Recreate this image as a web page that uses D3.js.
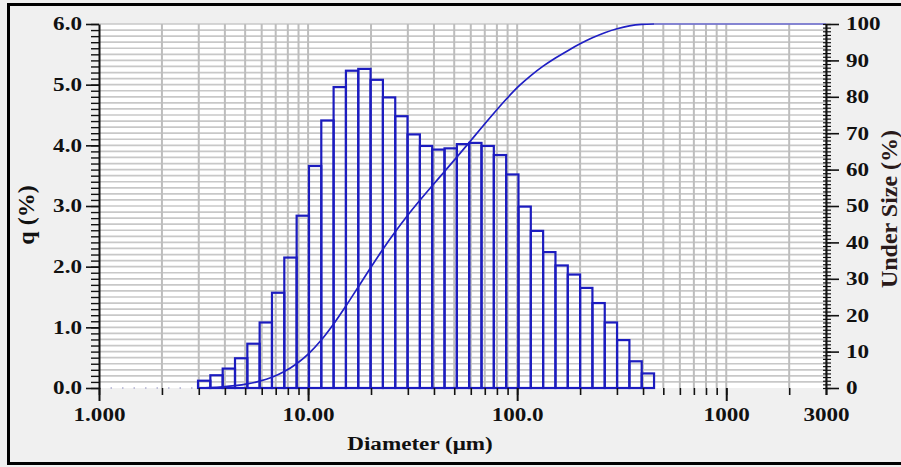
<!DOCTYPE html>
<html>
<head>
<meta charset="utf-8">
<script src="https://cdn.jsdelivr.net/npm/d3@7"></script>
<style>
  body { margin: 0; background: #f0f0f0; }
  .tick text { font-family: "Liberation Serif", "Times New Roman", serif; font-weight: bold; font-size: 18.5px; fill: #111; }
  .title { font-family: "Liberation Serif", "Times New Roman", serif; font-weight: bold; fill: #111; }
</style>
</head>
<body>
<div id="chart"></div>
<script>
// channel edges (um), q per channel (%), cumulative undersize at each edge (%)
var binEdges = [2.976, 3.409, 3.905, 4.472, 5.122, 5.866, 6.719, 7.696, 8.816, 10.097,
  11.565, 13.246, 15.172, 17.377, 19.904, 22.797, 26.111, 29.907, 34.255, 39.234,
  44.938, 51.471, 58.953, 67.523, 77.339, 88.583, 101.46, 116.21, 133.103, 152.453,
  174.616, 200, 229.075, 262.376, 300.518, 344.206, 394.244, 451.556];
var qValues = [0.12, 0.21, 0.32, 0.49, 0.73, 1.08, 1.57, 2.15, 2.84, 3.66,
  4.41, 4.96, 5.23, 5.26, 5.08, 4.79, 4.48, 4.18, 3.99, 3.93,
  3.95, 4.02, 4.04, 3.99, 3.84, 3.52, 2.99, 2.59, 2.24, 2.02,
  1.87, 1.65, 1.40, 1.08, 0.79, 0.44, 0.24];
var underSize = [0, 0.12, 0.33, 0.65, 1.14, 1.87, 2.95, 4.52, 6.67, 9.51,
  13.17, 17.58, 22.54, 27.77, 33.03, 38.11, 42.90, 47.38, 51.56, 55.55,
  59.48, 63.43, 67.45, 71.49, 75.48, 79.32, 82.84, 85.83, 88.42, 90.66,
  92.68, 94.55, 96.20, 97.60, 98.68, 99.47, 99.88, 100];

var xTickValues = [1, 10, 100, 1000, 3000];
var xTickLabels = ["1.000", "10.00", "100.0", "1000", "3000"];
var yLeftTicks = [0, 1, 2, 3, 4, 5, 6];
var yRightTicks = [0, 10, 20, 30, 40, 50, 60, 70, 80, 90, 100];

var W = 901, H = 467;
var stretch = 1.25; // the source text is drawn wide
var margin = {top: 24, right: 75, bottom: 79, left: 99},
    width = W - margin.left - margin.right,
    height = H - margin.top - margin.bottom;

var svgRoot = d3.select("#chart").append("svg")
    .attr("width", W)
    .attr("height", H);

// outer frame
svgRoot.append("rect")
    .attr("x", 8.5).attr("y", 4.5)
    .attr("width", W + 10).attr("height", 459)
    .attr("fill", "#f0f0f0")
    .attr("stroke", "#000")
    .attr("stroke-width", 3);

var svg = svgRoot.append("g")
    .attr("transform", "translate(" + margin.left + "," + margin.top + ")");

var x = d3.scaleLog().domain([1, 3000]).range([0, width]);
var yL = d3.scaleLinear().domain([0, 6]).range([height, 0]);
var yR = d3.scaleLinear().domain([0, 100]).range([height, 0]);

function widen(g) {
  g.selectAll("text")
    .attr("x", function() { return (+d3.select(this).attr("x") || 0) / stretch; })
    .attr("transform", "scale(" + stretch + ",1)");
}

// plot background
svg.append("rect")
    .attr("width", width).attr("height", height)
    .attr("fill", "#fff");

// horizontal grid every 0.1
var hGrid = d3.range(1, 61).map(function(d) { return d / 10; });
svg.append("g").selectAll("line")
  .data(hGrid)
  .enter().append("line")
    .attr("x1", 0).attr("x2", width)
    .attr("y1", function(d) { return yL(d); })
    .attr("y2", function(d) { return yL(d); })
    .attr("stroke", "#c8c8c8")
    .attr("stroke-width", 1.7);

// vertical grid at log ticks
svg.append("g").selectAll("line")
  .data(x.ticks().filter(function(d) { return d > 1; }))
  .enter().append("line")
    .attr("x1", function(d) { return x(d); })
    .attr("x2", function(d) { return x(d); })
    .attr("y1", 0).attr("y2", height)
    .attr("stroke", "#bdbdbd")
    .attr("stroke-width", 2);

// histogram bars
svg.append("g").selectAll("rect")
  .data(qValues)
  .enter().append("rect")
    .attr("x", function(d, i) { return x(binEdges[i]); })
    .attr("width", function(d, i) { return x(binEdges[i + 1]) - x(binEdges[i]); })
    .attr("y", function(d) { return yL(d); })
    .attr("height", function(d) { return yL(0) - yL(d); })
    .attr("fill", "none")
    .attr("stroke", "#1c1cbf")
    .attr("stroke-width", 2.2);

// cumulative curve
var pts = binEdges.map(function(e, i) { return [e, underSize[i]]; });
var line = d3.line()
    .x(function(d) { return x(d[0]); })
    .y(function(d) { return yR(d[1]); })
    .curve(d3.curveMonotoneX);

svg.append("path")
    .datum(pts)
    .attr("d", line)
    .attr("fill", "none")
    .attr("stroke", "#1f1fc4")
    .attr("stroke-width", 1.7);

// flat tails of the curve
svg.append("line")
    .attr("x1", x(1)).attr("x2", x(binEdges[0]))
    .attr("y1", yR(0)).attr("y2", yR(0))
    .attr("stroke", "#8888bb")
    .attr("stroke-width", 1.2)
    .attr("stroke-dasharray", "1.5,10");
svg.append("line")
    .attr("x1", x(binEdges[binEdges.length - 1])).attr("x2", x(3000))
    .attr("y1", yR(100)).attr("y2", yR(100))
    .attr("stroke", "#6a6ad0")
    .attr("stroke-width", 1.4);

// bottom axis: minor then major
svg.append("g")
    .attr("transform", "translate(0," + height + ")")
    .call(d3.axisBottom(x).tickValues(x.ticks()).tickFormat("").tickSize(7).tickSizeOuter(0))
    .call(function(g) { g.select(".domain").remove(); })
    .selectAll("line").attr("stroke", "#111").attr("stroke-width", 1.6);

svg.append("g")
    .attr("transform", "translate(0," + height + ")")
    .call(d3.axisBottom(x).tickValues(xTickValues)
      .tickFormat(function(d, i) { return xTickLabels[i]; })
      .tickSize(13).tickPadding(7).tickSizeOuter(0))
    .call(function(g) {
      g.select(".domain").remove();
      g.selectAll("line").attr("stroke", "#111").attr("stroke-width", 2)
        .attr("y2", function(d) { return d === 3000 ? 7 : 13; });
    })
    .call(widen);

// left axis
svg.append("g")
    .call(d3.axisLeft(yL).tickValues(hGrid.concat([0])).tickFormat("").tickSize(8).tickSizeOuter(0))
    .call(function(g) { g.select(".domain").remove(); })
    .selectAll("line").attr("stroke", "#111").attr("stroke-width", 1.4);

svg.append("g")
    .call(d3.axisLeft(yL).tickValues(yLeftTicks).tickFormat(d3.format(".1f"))
      .tickSize(13).tickPadding(4).tickSizeOuter(0))
    .call(function(g) {
      g.select(".domain").attr("stroke", "#111").attr("stroke-width", 2);
      g.selectAll("line").attr("stroke", "#111").attr("stroke-width", 1.6);
    })
    .call(widen);

// right axis
svg.append("g")
    .attr("transform", "translate(" + width + ",0)")
    .call(d3.axisRight(yR).tickValues(d3.range(0, 101)).tickFormat("").tickSize(5).tickSizeOuter(0))
    .call(function(g) { g.select(".domain").remove(); })
    .selectAll("line").attr("stroke", "#111").attr("stroke-width", 1.2)
    .attr("x1", -3);

svg.append("g")
    .attr("transform", "translate(" + width + ",0)")
    .call(d3.axisRight(yR).tickValues(yRightTicks).tickSize(13).tickPadding(7).tickSizeOuter(0))
    .call(function(g) {
      g.select(".domain").attr("stroke", "#111").attr("stroke-width", 2);
      g.selectAll("line").attr("stroke", "#111").attr("stroke-width", 1.6);
    })
    .call(widen);

// axis titles
svgRoot.append("text")
    .attr("class", "title")
    .attr("transform", "translate(420,450) scale(" + stretch + ",1)")
    .attr("text-anchor", "middle")
    .style("font-size", "18.5px")
    .text("Diameter (μm)");

svgRoot.append("text")
    .attr("class", "title")
    .attr("transform", "translate(34,215) rotate(-90)")
    .attr("text-anchor", "middle")
    .style("font-size", "24px")
    .text("q (%)");

svgRoot.append("text")
    .attr("class", "title")
    .attr("transform", "translate(897,209) rotate(-90)")
    .attr("text-anchor", "middle")
    .style("font-size", "24px")
    .style("fill", "#2a1a1a")
    .text("Under Size (%)");
</script>
</body>
</html>
